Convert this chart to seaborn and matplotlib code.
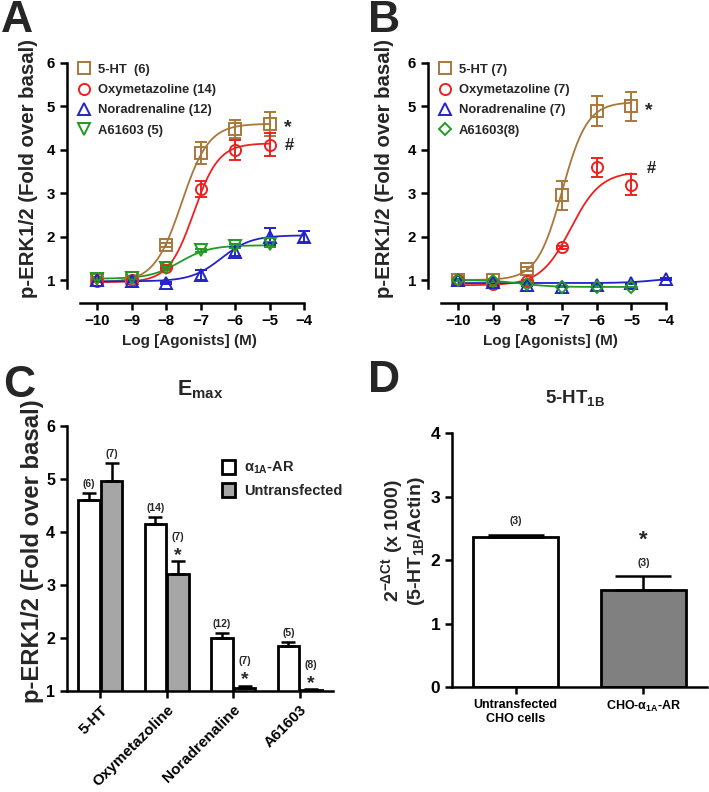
import numpy as np
import pandas as pd
import matplotlib
matplotlib.use("Agg")
import matplotlib.pyplot as plt
from matplotlib.lines import Line2D
from matplotlib.patches import Patch
import seaborn as sns

# ---------------- data ----------------
log_conc = [-10, -9, -8, -7, -6, -5, -4]

# Panel A (alpha1A-AR transfected)
a_5ht = [1.00, 1.05, 1.80, 3.93, 4.48, 4.60]
a_5ht_err = [0.03, 0.03, 0.05, 0.25, 0.20, 0.28]
a_oxy = [0.98, 1.00, 1.30, 3.10, 4.00, 4.12]
a_oxy_err = [0.03, 0.03, 0.05, 0.18, 0.23, 0.27]
a_nor = [1.00, 0.98, 0.93, 1.12, 1.65, 2.00, 2.00]
a_nor_err = [0.03, 0.03, 0.03, 0.12, 0.10, 0.20, 0.12]
a_a61 = [1.02, 1.05, 1.27, 1.68, 1.78, 1.82]
a_a61_err = [0.03, 0.03, 0.03, 0.03, 0.04, 0.06]

# Panel B (untransfected)
b_5ht = [1.00, 1.00, 1.25, 2.95, 4.90, 5.00]
b_5ht_err = [0.03, 0.03, 0.05, 0.33, 0.35, 0.33]
b_oxy = [1.00, 0.90, 0.97, 1.75, 3.60, 3.20]
b_oxy_err = [0.03, 0.03, 0.03, 0.03, 0.22, 0.25]
b_nor = [1.00, 0.95, 0.88, 0.85, 0.88, 0.92, 1.02]
b_nor_err = [0.02, 0.02, 0.02, 0.02, 0.02, 0.02, 0.02]
b_a61 = [1.00, 0.98, 0.90, 0.85, 0.85, 0.83]
b_a61_err = [0.02, 0.02, 0.02, 0.02, 0.02, 0.02]

# fitted curve parameters: (start, end, logEC50, hill)
a_fit = {"5-HT": (0.95, 4.60, -7.55, 1.1), "Oxy": (0.95, 4.15, -7.20, 1.2),
         "Nor": (0.97, 2.03, -6.40, 1.0), "A61": (1.03, 1.80, -7.60, 1.0)}
b_fit = {"5-HT": (1.00, 5.10, -7.00, 1.2), "Oxy": (0.88, 3.50, -6.75, 1.0),
         "Nor": (0.93, 1.06, -4.30, 1.0), "A61": (1.00, 0.84, -8.20, 1.0)}

a_labels = ["5-HT  (6)", "Oxymetazoline (14)", "Noradrenaline (12)", "A61603 (5)"]
b_labels = ["5-HT (7)", "Oxymetazoline (7)", "Noradrenaline (7)", "A61603(8)"]

# Panel C
c_agonists = ["5-HT", "Oxymetazoline", "Noradrenaline", "A61603"]
c_groups = ["α$_{1A}$-AR", "Untransfected"]
c_transfected = [4.60, 4.15, 2.00, 1.85]
c_transfected_err = [0.13, 0.13, 0.10, 0.07]
c_untransfected = [4.97, 3.20, 1.05, 1.02]
c_untransfected_err = [0.33, 0.25, 0.05, 0.01]
c_n_trans = ["(6)", "(14)", "(12)", "(5)"]
c_n_untrans = ["(7)", "(7)", "(7)", "(8)"]
c_sig_untrans = [False, True, True, True]

# Panel D
d_cells = ["Untransfected\nCHO cells", "CHO-α$_{1A}$-AR"]
d_values = [2.36, 1.53]
d_err = [0.04, 0.22]
d_n = ["(3)", "(3)"]
d_sig = [False, True]

# ---------------- style ----------------
sns.set_style("ticks")
plt.rcParams["font.family"] = ["Liberation Sans", "DejaVu Sans"]
plt.rcParams["font.weight"] = "bold"
plt.rcParams["mathtext.fontset"] = "custom"
plt.rcParams["mathtext.rm"] = "Liberation Sans:bold"
plt.rcParams["mathtext.bf"] = "Liberation Sans:bold"
plt.rcParams["mathtext.it"] = "Liberation Sans:bold"
plt.rcParams["mathtext.default"] = "bf"

colors = {"5-HT": "#a8773a", "Oxy": "#ee2020", "Nor": "#2222c8", "A61": "#239a23"}
W, H = 709, 792
fig = plt.figure(figsize=(W / 100, H / 100), dpi=100)


def rect(l, t, r, b):
    return [l / W, 1 - b / H, (r - l) / W, (b - t) / H]


def style_axes(ax, lw=1.8):
    for s in ["top", "right"]:
        ax.spines[s].set_visible(False)
    for s in ["left", "bottom"]:
        ax.spines[s].set_linewidth(lw)
        ax.spines[s].set_color("black")
    ax.tick_params(direction="out", length=5, width=lw, colors="black")


def hill(x, p):
    s, e, ec, h = p
    return s + (e - s) / (1 + 10 ** ((ec - x) * h))


def dose_panel(ax, data, fits, labels, markers, lastx):
    keys = ["5-HT", "Oxy", "Nor", "A61"]
    rows = []
    for k in keys:
        xx = np.linspace(-10, lastx[k], 300)
        for xv, yv in zip(xx, hill(xx, fits[k])):
            rows.append({"x": xv, "y": yv, "agonist": k})
    df = pd.DataFrame(rows)
    sns.lineplot(data=df, x="x", y="y", hue="agonist", palette=colors,
                 ax=ax, legend=False, linewidth=1.3)
    handles = []
    for k, lab in zip(keys, labels):
        y, e = data[k]
        xs = log_conc[:len(y)]
        ms = 6.5 if markers[k] == "D" else 8
        ax.errorbar(xs, y, yerr=e, fmt=markers[k], mfc="none", mec=colors[k],
                    ecolor=colors[k], ms=ms, mew=1.4, elinewidth=1.4,
                    capsize=4, capthick=1.4, clip_on=False, zorder=3)
        handles.append(Line2D([], [], ls="none", marker=markers[k], mfc="none",
                              mec=colors[k], ms=ms, mew=1.4, label=lab))
    ax.set_xlim(-10.87, -3.8)
    ax.set_ylim(0.816, 6.184)
    ax.spines["left"].set_bounds(0.816, 6)
    ax.spines["bottom"].set_bounds(-10.5, -4)
    ax.spines["bottom"].set_position(("outward", 10.5))
    ax.set_xticks(range(-10, -3))
    ax.set_yticks(range(1, 7))
    ax.tick_params(labelsize=10.8)
    ax.set_xlabel("Log [Agonists] (M)", fontsize=11, fontweight="bold", labelpad=4)
    ax.set_ylabel("")
    ax.legend(handles=handles, loc="upper left", bbox_to_anchor=(0.02, 0.985),
              frameon=False, fontsize=9.4, handlelength=1.0, handletextpad=0.6,
              labelspacing=0.62, borderaxespad=0)
    style_axes(ax)


def marks(ax, star_y, hash_y, hash_off):
    ax.annotate("*", (-5, star_y), xytext=(10, -9.2), textcoords="offset points",
                fontsize=14, fontweight="bold", va="bottom")
    ax.annotate("#", (-5, hash_y), xytext=(11, hash_off), textcoords="offset points",
                fontsize=12, fontweight="bold", va="top")


# ---------------- Panel A ----------------
axA = fig.add_axes(rect(67, 55, 311, 288))
dose_panel(axA,
           {"5-HT": (a_5ht, a_5ht_err), "Oxy": (a_oxy, a_oxy_err),
            "Nor": (a_nor, a_nor_err), "A61": (a_a61, a_a61_err)},
           a_fit, a_labels, {"5-HT": "s", "Oxy": "o", "Nor": "^", "A61": "v"},
           {"5-HT": -5, "Oxy": -5, "Nor": -4, "A61": -5})
marks(axA, a_5ht[-1], a_oxy[-1], 5)
fig.text(29 / W, 1 - 168 / H, "p-ERK1/2 (Fold over basal)", rotation=90,
         fontsize=14.7, fontweight="bold", ha="center", va="center")

# ---------------- Panel B ----------------
axB = fig.add_axes(rect(428, 55, 673, 288))
dose_panel(axB,
           {"5-HT": (b_5ht, b_5ht_err), "Oxy": (b_oxy, b_oxy_err),
            "Nor": (b_nor, b_nor_err), "A61": (b_a61, b_a61_err)},
           b_fit, b_labels, {"5-HT": "s", "Oxy": "o", "Nor": "^", "A61": "D"},
           {"5-HT": -5, "Oxy": -5, "Nor": -4, "A61": -5})
marks(axB, b_5ht[-1], b_oxy[-1], 17)
fig.text(384 / W, 1 - 168 / H, "p-ERK1/2 (Fold over basal)", rotation=90,
         fontsize=14.7, fontweight="bold", ha="center", va="center")

# ---------------- Panel C ----------------
axC = fig.add_axes(rect(67, 421, 333, 691))
dfc = pd.DataFrame({
    "agonist": c_agonists * 2,
    "group": [c_groups[0]] * 4 + [c_groups[1]] * 4,
    "value": c_transfected + c_untransfected,
})
sns.barplot(data=dfc, x="agonist", y="value", hue="group", hue_order=c_groups,
            palette={c_groups[0]: "white", c_groups[1]: "#a6a6a6"},
            edgecolor="black", linewidth=2, width=0.68, gap=0.06,
            errorbar=None, legend=False, ax=axC)
errs = [c_transfected_err, c_untransfected_err]
vals = [c_transfected, c_untransfected]
nlabs = [c_n_trans, c_n_untrans]
bar_conts = list(axC.containers)[:2]
for gi, cont in enumerate(bar_conts):
    for bi, bar in enumerate(list(cont)):
        xc = bar.get_x() + bar.get_width() / 2
        v, e = vals[gi][bi], errs[gi][bi]
        axC.errorbar([xc], [v], yerr=[[0], [e]], fmt="none", ecolor="black",
                     elinewidth=1.8, capsize=5, capthick=1.8, clip_on=False)
        off = 3
        if gi == 1 and c_sig_untrans[bi]:
            axC.annotate("*", (xc, v + e), xytext=(0, -2), textcoords="offset points",
                         ha="center", va="bottom", fontsize=14, fontweight="bold")
            off = 14
        axC.annotate(nlabs[gi][bi], (xc, v + e), xytext=(0, off),
                     textcoords="offset points", ha="center", va="bottom",
                     fontsize=7.5, fontweight="bold")
axC.set_xlim(-0.5, 3.5)
axC.set_ylim(1, 6.094)
axC.spines["left"].set_bounds(1, 6)
axC.set_yticks(range(1, 7))
axC.set_xlabel("")
axC.set_ylabel("")
axC.tick_params(labelsize=11.5)
plt.setp(axC.get_xticklabels(), rotation=45, ha="right", rotation_mode="anchor",
         fontsize=11, fontweight="bold")
style_axes(axC)
axC.legend(handles=[Patch(facecolor="white", edgecolor="black", lw=2, label=c_groups[0]),
                    Patch(facecolor="#a6a6a6", edgecolor="black", lw=2, label=c_groups[1])],
           loc="upper left", bbox_to_anchor=(0.56, 0.878), frameon=False,
           fontsize=10.5, handlelength=0.9, handleheight=1.1, handletextpad=0.6,
           labelspacing=0.45, borderaxespad=0)
fig.text(33 / W, 1 - 551 / H, "p-ERK1/2 (Fold over basal)", rotation=90,
         fontsize=17.2, fontweight="bold", ha="center", va="center")
fig.text(200 / W, 1 - 390 / H, "E$_{max}$", fontsize=15.5, fontweight="bold",
         ha="center", va="center")

# ---------------- Panel D ----------------
axD = fig.add_axes(rect(452, 428, 707, 687))
dfd = pd.DataFrame({"cell": d_cells, "value": d_values})
sns.barplot(data=dfd, x="cell", y="value", hue="cell",
            palette=["white", "#808080"], edgecolor="black", linewidth=2,
            width=0.67, errorbar=None, legend=False, ax=axD)
d_bars = list(axD.patches)
for bi, bar in enumerate(d_bars):
    xc = bar.get_x() + bar.get_width() / 2
    v, e = d_values[bi], d_err[bi]
    axD.errorbar([xc], [v], yerr=[[0], [e]], fmt="none", ecolor="black",
                 elinewidth=1.8, capsize=20, capthick=1.8)
    axD.annotate(d_n[bi], (xc, v + e), xytext=(0, 6), textcoords="offset points",
                 ha="center", va="bottom", fontsize=7.5, fontweight="bold")
    if d_sig[bi]:
        axD.annotate("*", (xc, v + e), xytext=(0, 18), textcoords="offset points",
                     ha="center", va="bottom", fontsize=16, fontweight="bold")
axD.set_xlim(-0.5, 1.5)
axD.set_ylim(0, 4.08)
axD.spines["left"].set_bounds(0, 4)
axD.set_yticks(range(0, 5))
axD.set_xlabel("")
axD.set_ylabel("")
axD.tick_params(labelsize=12.5)
plt.setp(axD.get_xticklabels(), fontsize=9, fontweight="bold")
style_axes(axD)
fig.text(403 / W, 1 - 541 / H, "2$^{-ΔCt}$ (x 1000)\n(5-HT$_{1B}$/Actin)",
         rotation=90, fontsize=14, fontweight="bold", ha="center", va="center",
         linespacing=1.05)
fig.text(575 / W, 1 - 398 / H, "5-HT$_{1B}$", fontsize=13.5, fontweight="bold",
         ha="center", va="center")

# ---------------- panel letters ----------------
for lab, x, y in [("A", 1, 0), ("B", 368, 0), ("C", 3, 365), ("D", 368, 360)]:
    fig.text(x / W, 1 - y / H, lab, fontsize=32, fontweight="bold",
             ha="left", va="top")

fig.savefig("out.png", dpi=100, facecolor="white")
